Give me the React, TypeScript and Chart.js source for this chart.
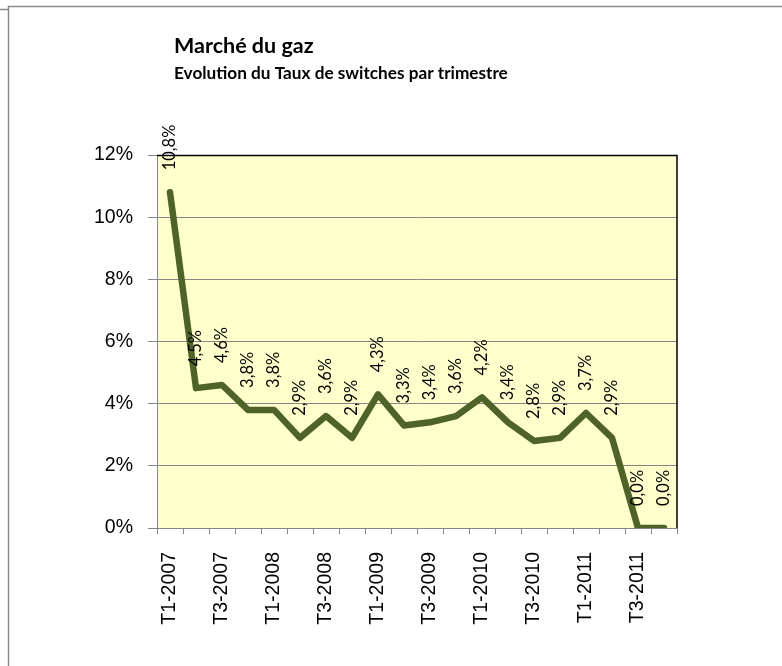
import React, { useEffect, useRef } from "react";
import { Chart, registerables } from "chart.js";

Chart.register(...registerables);

const categories = [
  "T1-2007", "T2-2007", "T3-2007", "T4-2007",
  "T1-2008", "T2-2008", "T3-2008", "T4-2008",
  "T1-2009", "T2-2009", "T3-2009", "T4-2009",
  "T1-2010", "T2-2010", "T3-2010", "T4-2010",
  "T1-2011", "T2-2011", "T3-2011", "T4-2011",
];
const switchRate = [10.8, 4.5, 4.6, 3.8, 3.8, 2.9, 3.6, 2.9, 4.3, 3.3, 3.4, 3.6, 4.2, 3.4, 2.8, 2.9, 3.7, 2.9, 0.0, 0.0];
const yTicks = [0, 2, 4, 6, 8, 10, 12];
const titleText = "Marché du gaz";
const subtitleText = "Evolution du Taux de switches par trimestre";

const W = 782;
const H = 666;

const decoPlugin = {
  id: "deco",
  beforeDraw(chart: any) {
    const { ctx, chartArea } = chart;
    ctx.save();
    ctx.fillStyle = "#ffffff";
    ctx.fillRect(0, 0, W, H);
    ctx.fillStyle = "#FFFFCC";
    ctx.fillRect(chartArea.left, chartArea.top, chartArea.right - chartArea.left, chartArea.bottom - chartArea.top);
    // outer frame
    ctx.strokeStyle = "#8a8a8a";
    ctx.lineWidth = 1.5;
    ctx.beginPath();
    ctx.moveTo(8.5, H);
    ctx.lineTo(8.5, 6.5);
    ctx.lineTo(W, 6.5);
    ctx.moveTo(0, 9.5);
    ctx.lineTo(8.5, 9.5);
    ctx.stroke();
    // titles
    ctx.fillStyle = "#000000";
    ctx.textAlign = "left";
    ctx.textBaseline = "alphabetic";
    ctx.font = "bold 21.5px Lato";
    ctx.fillText(titleText, 174, 53);
    ctx.font = "bold 17.2px Lato";
    ctx.fillText(subtitleText, 174, 79);
    ctx.restore();
  },
  afterDraw(chart: any) {
    const { ctx, chartArea } = chart;
    ctx.save();
    ctx.strokeStyle = "#000000";
    ctx.lineWidth = 1.5;
    ctx.beginPath();
    ctx.moveTo(chartArea.left, chartArea.top + 0.5);
    ctx.lineTo(chartArea.right, chartArea.top + 0.5);
    ctx.lineTo(chartArea.right, chartArea.bottom);
    ctx.stroke();
    ctx.restore();
  },
  afterDatasetsDraw(chart: any) {
    const { ctx } = chart;
    const meta = chart.getDatasetMeta(0);
    ctx.save();
    ctx.fillStyle = "#000000";
    ctx.font = "16.5px Lato";
    ctx.textAlign = "left";
    ctx.textBaseline = "middle";
    meta.data.forEach((pt: any, i: number) => {
      const v = switchRate[i];
      const label = v.toFixed(1).replace(".", ",") + "%";
      ctx.save();
      ctx.translate(pt.x, pt.y - 22);
      ctx.rotate(-Math.PI / 2);
      ctx.fillText(label, 0, 0);
      ctx.restore();
    });
    ctx.restore();
  },
};

export default function App() {
  const ref = useRef<HTMLCanvasElement | null>(null);
  useEffect(() => {
    if (!ref.current) return;
    const chart = new Chart(ref.current, {
      type: "line",
      data: {
        labels: categories,
        datasets: [
          {
            data: switchRate,
            borderColor: "#4F6228",
            borderWidth: 6.5,
            pointRadius: 0,
            tension: 0,
            borderCapStyle: "round",
            borderJoinStyle: "round",
            fill: false,
          },
        ],
      },
      options: {
        responsive: false,
        animation: false,
        devicePixelRatio: 1,
        layout: { padding: { left: 0, top: 155, right: 105, bottom: 0 } },
        plugins: { legend: { display: false }, tooltip: { enabled: false }, title: { display: false } },
        scales: {
          x: {
            offset: true,
            grid: { offset: true, drawOnChartArea: false, drawTicks: true, tickLength: 6, color: "#868686" },
            border: { color: "#868686", width: 1 },
            ticks: {
              autoSkip: false,
              maxRotation: 90,
              minRotation: 90,
              padding: 18,
              color: "#000000",
              font: { family: "Liberation Sans", size: 19.5 },
              callback: (_v: any, i: number) => (i % 2 === 0 ? categories[i] : ""),
            },
            afterFit: (s: any) => { s.height = H - 528; },
          },
          y: {
            min: 0,
            max: 12,
            afterBuildTicks: (s: any) => { s.ticks = yTicks.map((v) => ({ value: v })); },
            grid: { color: "#868686", lineWidth: 1, tickLength: 9, drawTicks: true },
            border: { color: "#868686", width: 1 },
            ticks: {
              padding: 15,
              color: "#000000",
              font: { family: "Liberation Sans", size: 19.5 },
              callback: (v: any) => v + "%",
            },
            afterFit: (s: any) => { s.width = 157; },
          },
        },
      },
      plugins: [decoPlugin],
    });
    return () => chart.destroy();
  }, []);
  return (
    <div style={{ position: "absolute", left: 0, top: 0, width: W, height: H }}>
      <canvas ref={ref} width={W} height={H} style={{ display: "block" }} />
    </div>
  );
}
